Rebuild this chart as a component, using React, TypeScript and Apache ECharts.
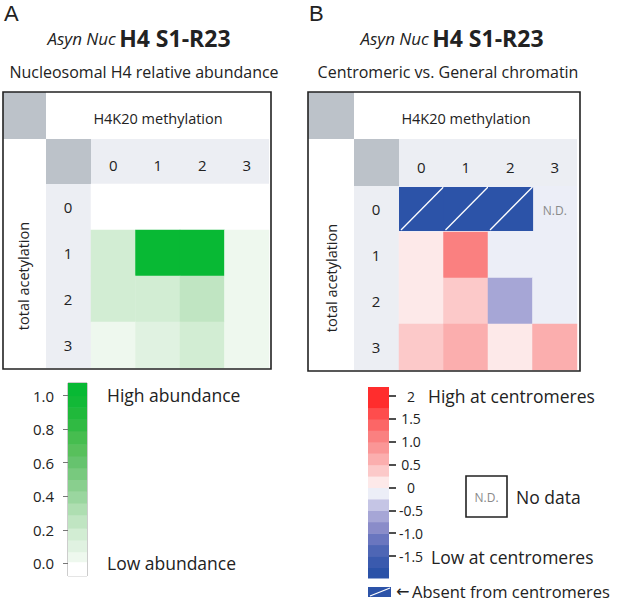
import React, { useEffect, useRef } from "react";
import * as echarts from "echarts";

const FONT = "'Open Sans', 'Noto Sans', sans-serif";

// ---------- data ----------
const colLabels = ["0", "1", "2", "3"]; // H4K20 methylation
const rowLabels = ["0", "1", "2", "3"]; // total acetylation

// Panel A: nucleosomal H4 relative abundance (rows = acetylation, cols = methylation)
const abundanceRow0 = [0.0, 0.0, 0.0, 0.0];
const abundanceRow1 = [0.15, 1.0, 1.0, 0.05];
const abundanceRow2 = [0.18, 0.18, 0.25, 0.05];
const abundanceRow3 = [0.05, 0.12, 0.18, 0.05];
const abundance = [abundanceRow0, abundanceRow1, abundanceRow2, abundanceRow3];

// Panel B: centromeric vs general chromatin (log ratio); null = absent / no data
const ratioRow0: (number | null)[] = [null, null, null, null];
const ratioRow1 = [0.1, 1.1, -0.1, -0.1];
const ratioRow2 = [0.1, 0.4, -0.6, -0.1];
const ratioRow3 = [0.4, 0.6, 0.1, 0.6];
const ratio = [ratioRow0, ratioRow1, ratioRow2, ratioRow3];
const absentCells = [[0, 0], [1, 0], [2, 0]];
const noDataCells = [[3, 0]];

// colour scales (legend bands)
const aBandEdges = [-0.075, 0.01, 0.07, 0.14, 0.21, 0.29, 0.36, 0.43, 0.5, 0.57, 0.64, 0.71, 0.79, 0.86, 0.93, 1.0, 1.075];
const aBandColors = ["#ffffff", "#eef8ee", "#e0f2e1", "#d2edd3", "#c0e5c2", "#aedeb1", "#9ad69f", "#89cf8e", "#78c97e", "#66c36e", "#58c05c", "#46bd4f", "#30ba43", "#20b93b", "#12b937", "#08b934"];
const aTicks = [0, 0.2, 0.4, 0.6, 0.8, 1.0];

const bBandEdges = [-1.98, -1.75, -1.5, -1.25, -1.0, -0.75, -0.5, -0.25, 0, 0.25, 0.5, 0.75, 1.0, 1.25, 1.5, 1.75, 2.2];
const bBandColors = ["#2b52a8", "#3a5aae", "#4e66b5", "#6a76bf", "#8a8cc9", "#a6a6d6", "#c5c5e5", "#eceef7", "#fde9e9", "#fcc9c9", "#fbaeae", "#fa9696", "#fa8080", "#fc6666", "#fe4d4d", "#ff2d2d"];
const bTicks = [-1.5, -1.0, -0.5, 0, 0.5, 1.0, 1.5, 2];
const bTickLabels = ["-1.5", "-1.0", "-0.5", "0", "0.5", "1.0", "1.5", "2"];

const ABSENT_COLOR = "#2c53a8";

function pieces(edges: number[], colors: string[]) {
  return colors.map((c, i) => ({ gte: edges[i], lt: edges[i + 1] + (i === colors.length - 1 ? 1 : 0), color: c }));
}
function barData(edges: number[]) {
  return edges.slice(0, -1).map((lo, i) => [0, lo, edges[i + 1]]);
}

export default function App() {
  const ref = useRef<HTMLDivElement>(null);
  useEffect(() => {
    document.body.style.margin = "0";
    const chart = echarts.init(ref.current!, null, { renderer: "svg" });

    const heatA = abundance.flatMap((row, r) => row.map((v, c) => [c, r, v]));
    const heatB = ratio.flatMap((row, r) => row.map((v, c) => (v === null ? null : [c, r, v]))).filter((d) => d !== null);

    const catX = (gridIndex: number) => ({
      type: "category",
      gridIndex,
      position: "top",
      data: colLabels,
      axisLine: { show: false },
      axisTick: { show: false },
      splitLine: { show: false },
      axisLabel: { fontSize: 15, color: "#222", fontFamily: FONT, margin: 12 },
    });
    const catY = (gridIndex: number) => ({
      type: "category",
      gridIndex,
      inverse: true,
      data: rowLabels,
      axisLine: { show: false },
      axisTick: { show: false },
      splitLine: { show: false },
      axisLabel: { fontSize: 15, color: "#222", fontFamily: FONT, margin: 23, align: "center" },
      name: "total acetylation",
      nameLocation: "middle",
      nameGap: 68,
      nameRotate: 90,
      nameTextStyle: { fontSize: 14.5, color: "#222", fontFamily: FONT, verticalAlign: "middle" },
    });

    const barRender = (colors: string[]) => (params: any, api: any) => {
      const lo = api.value(1);
      const hi = api.value(2);
      const pTop = api.coord([0, hi]);
      const pBot = api.coord([0, lo]);
      const w = api.size([1, 0])[0];
      return {
        type: "rect",
        shape: { x: pTop[0] - w / 2, y: pTop[1], width: w, height: pBot[1] - pTop[1] + 0.5 },
        style: { fill: colors[params.dataIndex] },
      };
    };

    const frame = (boxX: number, boxW: number, boxH: number, gl: number, gt: number, gw: number, gh: number) => [
      { type: "rect", shape: { x: boxX, y: 92, width: gl - 45 - boxX, height: 47 }, style: { fill: "#bcc2c9" } },
      { type: "rect", shape: { x: gl - 45, y: 139, width: 45, height: gt - 139 }, style: { fill: "#bcc2c9" } },
      { type: "rect", shape: { x: gl, y: 139, width: gw, height: gt - 139 }, style: { fill: "#eceef3" } },
      { type: "rect", shape: { x: gl - 45, y: gt, width: 45, height: gh }, style: { fill: "#eceef3" } },
      { type: "rect", z: 100, shape: { x: boxX, y: 92, width: boxW, height: boxH }, style: { fill: "none", stroke: "#222", lineWidth: 1.6 } },
    ];

    const txt = (x: number, y: number, text: string, size: number, align = "left", color = "#222", family = FONT) => ({
      type: "text",
      x,
      y,
      style: { text, fill: color, font: `${size}px ${family}`, align, verticalAlign: "middle" },
    });

    const titleRich = {
      i: { fontStyle: "italic", fontSize: 17, fontFamily: FONT, fill: "#222" },
      b: { fontWeight: "bold", fontSize: 23, fontFamily: FONT, fill: "#222" },
    };

    const option: any = {
      animation: false,
      backgroundColor: "#fff",
      grid: [
        { left: 91, top: 184, width: 178, height: 184 },
        { left: 399, top: 186, width: 178, height: 184, show: true, backgroundColor: "#eceef7", borderWidth: 0 },
        { left: 68, top: 383, width: 19, height: 193, show: true, borderColor: "#9a9a9a", borderWidth: 1, backgroundColor: "#fff" },
        { left: 368, top: 387, width: 21, height: 191 },
      ],
      xAxis: [
        catX(0),
        catX(1),
        { type: "category", gridIndex: 2, data: [""], show: false },
        { type: "category", gridIndex: 3, data: [""], show: false },
      ],
      yAxis: [
        catY(0),
        catY(1),
        {
          type: "value",
          gridIndex: 2,
          min: aBandEdges[0],
          max: aBandEdges[aBandEdges.length - 1],
          splitLine: { show: false },
          axisLine: { show: false },
          axisTick: { show: true, length: 5, customValues: aTicks, lineStyle: { color: "#777", width: 1 } },
          axisLabel: { customValues: aTicks, formatter: (v: number) => v.toFixed(1), fontSize: 15, color: "#222", fontFamily: FONT, margin: 14 },
        },
        {
          type: "value",
          gridIndex: 3,
          position: "right",
          min: bBandEdges[0],
          max: bBandEdges[bBandEdges.length - 1],
          splitLine: { show: false },
          axisLine: { show: false },
          axisTick: { show: true, length: 7, customValues: bTicks, lineStyle: { color: "#222", width: 1.6 } },
          axisLabel: {
            customValues: bTicks,
            formatter: (v: number) => {
              const i = bTicks.findIndex((t) => Math.abs(t - v) < 1e-6);
              return i >= 0 ? bTickLabels[i] : "";
            },
            fontSize: 14,
            color: "#222",
            fontFamily: FONT,
            margin: 22,
            align: "center",
          },
        },
      ],
      visualMap: [
        { type: "piecewise", show: false, seriesIndex: 0, dimension: 2, pieces: pieces(aBandEdges, aBandColors) },
        { type: "piecewise", show: false, seriesIndex: 1, dimension: 2, pieces: pieces(bBandEdges, bBandColors) },
      ],
      series: [
        { type: "heatmap", xAxisIndex: 0, yAxisIndex: 0, data: heatA, itemStyle: { borderWidth: 0 } },
        { type: "heatmap", xAxisIndex: 1, yAxisIndex: 1, data: heatB, itemStyle: { borderWidth: 0 } },
        {
          type: "custom",
          xAxisIndex: 1,
          yAxisIndex: 1,
          data: absentCells,
          renderItem: (params: any, api: any) => {
            const c = api.coord([api.value(0), api.value(1)]);
            const s = api.size([1, 1]);
            const x = c[0] - s[0] / 2;
            const y = c[1] - s[1] / 2;
            return {
              type: "group",
              children: [
                { type: "rect", shape: { x, y: y + 1, width: s[0] + 0.6, height: s[1] - 2 }, style: { fill: ABSENT_COLOR } },
                { type: "line", shape: { x1: x + 2, y1: y + s[1] - 2, x2: x + s[0], y2: y + 1 }, style: { stroke: "#fff", lineWidth: 1.3 } },
              ],
            };
          },
        },
        {
          type: "custom",
          xAxisIndex: 1,
          yAxisIndex: 1,
          data: noDataCells,
          renderItem: (params: any, api: any) => {
            const c = api.coord([api.value(0), api.value(1)]);
            return {
              type: "text",
              x: c[0],
              y: c[1] + 1,
              style: { text: "N.D.", fill: "#8a8a8a", font: `12px ${FONT}`, align: "center", verticalAlign: "middle" },
            };
          },
        },
        { type: "custom", xAxisIndex: 2, yAxisIndex: 2, data: barData(aBandEdges), renderItem: barRender(aBandColors) },
        { type: "custom", xAxisIndex: 3, yAxisIndex: 3, data: barData(bBandEdges), renderItem: barRender(bBandColors) },
      ],
      graphic: [
        ...frame(3, 268, 277, 91, 184, 178, 184),
        ...frame(308, 272, 279, 399, 186, 178, 184),
        txt(158, 118, "H4K20 methylation", 14.5, "center"),
        txt(466, 118, "H4K20 methylation", 14.5, "center"),
        txt(4, 13, "A", 22, "left", "#222", "'Liberation Sans', Arial, sans-serif"),
        txt(309, 13, "B", 22, "left", "#222", "'Liberation Sans', Arial, sans-serif"),
        { type: "text", x: 139, y: 38, style: { text: "{i|Asyn Nuc} {b|H4 S1-R23}", rich: titleRich, align: "center", verticalAlign: "middle" } },
        { type: "text", x: 452, y: 38, style: { text: "{i|Asyn Nuc} {b|H4 S1-R23}", rich: titleRich, align: "center", verticalAlign: "middle" } },
        txt(144, 72, "Nucleosomal H4 relative abundance", 16, "center"),
        txt(448, 72, "Centromeric vs. General chromatin", 16, "center"),
        txt(107, 395, "High abundance", 17.5),
        txt(107, 563, "Low abundance", 17.5),
        txt(428, 396, "High at centromeres", 17.5),
        txt(431, 557, "Low at centromeres", 17.5),
        { type: "rect", shape: { x: 466, y: 476, width: 41, height: 41 }, style: { fill: "#fff", stroke: "#222", lineWidth: 1.6 } },
        txt(486.5, 497, "N.D.", 12, "center", "#8a8a8a"),
        txt(516, 497, "No data", 17.5),
        { type: "rect", shape: { x: 368, y: 587, width: 23, height: 10 }, style: { fill: ABSENT_COLOR } },
        { type: "line", shape: { x1: 370, y1: 596, x2: 390, y2: 588 }, style: { stroke: "#fff", lineWidth: 1.2 } },
        txt(396, 591, "\u2190", 16, "left", "#222", "'DejaVu Sans', sans-serif"),
        txt(412, 591, "Absent from centromeres", 16.5),
      ],
    };
    chart.setOption(option);
    return () => chart.dispose();
  }, []);
  return <div ref={ref} style={{ position: "fixed", left: 0, top: 0, width: 625, height: 601, background: "#fff" }} />;
}
